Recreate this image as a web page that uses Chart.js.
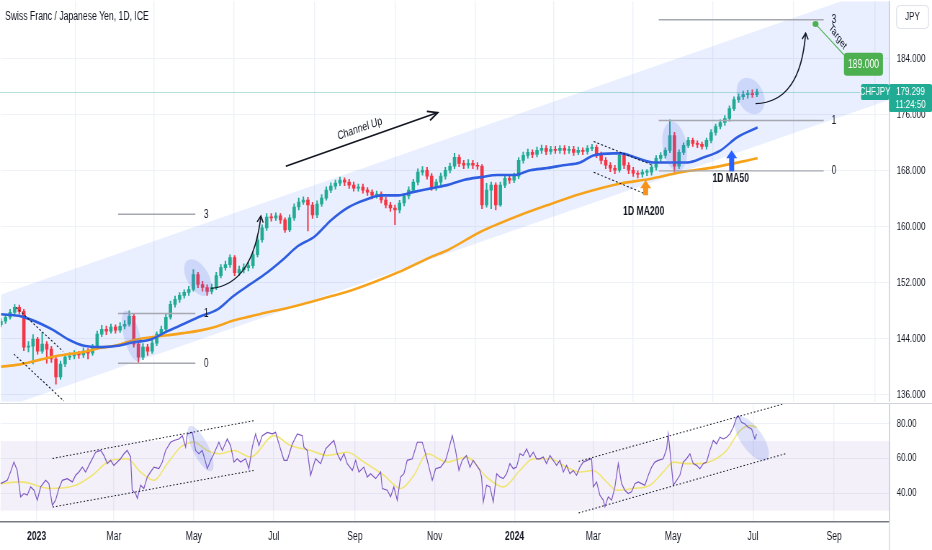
<!DOCTYPE html>
<html>
<head>
<meta charset="utf-8">
<script src="https://cdn.jsdelivr.net/npm/chart.js@4.4.1/dist/chart.umd.min.js"></script>
<style>
  html, body { margin: 0; padding: 0; background: #fff; }
  #wrap { position: relative; width: 932px; height: 550px; overflow: hidden; }
  /* the reference screenshot is horizontally compressed, so the panes are drawn wide and squeezed */
  .pane { position: absolute; left: 0; width: 1294px; transform: scaleX(0.72025); transform-origin: 0 0; }
  #pricePane { top: 0; height: 403px; }
  #rsiPane { top: 403px; height: 147px; }
</style>
</head>
<body>
<div id="wrap">
  <div id="pricePane" class="pane"><canvas id="priceChart"></canvas></div>
  <div id="rsiPane" class="pane"><canvas id="rsiChart"></canvas></div>
</div>
<script>
const FONT = '"Liberation Sans", Arial, sans-serif';
Chart.defaults.font.family = FONT;
Chart.defaults.color = "#131722";
const S = 932 / 1294;   // horizontal squeeze of the panes
const AXIS_W = 59;      // price axis width in canvas px

// x values are calendar days counted from 1 Jan 2023
const tickDays = [0, 59, 120, 181, 243, 304, 365, 425, 486, 547, 609];
const tickLabels = ["2023", "Mar", "May", "Jul", "Sep", "Nov", "2024", "Mar", "May", "Jul", "Sep"];
const priceTicks = [136, 144, 152, 160, 168, 176, 184];
const rsiTicks = [40, 60, 80];

// CHFJPY candles, one every ~2.5 sessions
const candleStartDay = -27.5;
const candleStepDays = 3.5;
const firstOpen = 146.0;
const closes = [
  146.50,147.07,147.78,148.49,147.92,142.81,142.95,143.94,142.24,143.23,
  142.52,141.10,138.54,140.39,141.38,141.53,141.81,141.67,142.24,141.95,
  142.81,144.65,145.36,145.08,145.65,145.22,145.79,146.07,147.21,143.23,
  141.38,142.81,142.24,143.37,144.65,145.36,147.07,148.91,149.62,150.19,
  150.62,151.04,153.18,151.75,151.33,150.76,151.33,153.03,154.17,154.60,
  155.59,153.46,153.89,154.17,154.45,156.02,158.15,159.85,161.41,161.27,
  161.56,160.99,159.57,161.27,162.83,163.54,163.83,163.12,161.70,163.26,
  164.11,165.25,165.82,166.24,166.67,166.39,165.96,165.53,165.68,165.25,
  164.97,164.54,164.68,163.83,163.12,162.69,162.41,163.40,164.40,165.25,
  166.39,167.81,168.09,167.24,165.68,166.39,167.24,168.09,168.66,169.94,
  169.08,168.80,169.08,168.80,168.66,163.12,165.25,165.96,163.12,165.96,
  166.95,166.67,167.24,169.51,170.22,170.65,170.36,170.93,171.22,170.79,
  171.07,170.93,171.22,170.93,171.07,170.65,170.93,170.79,171.22,171.36,
  170.36,169.51,168.80,168.37,168.09,170.22,168.80,168.09,167.66,167.52,
  167.81,167.81,168.52,169.79,170.22,170.93,173.06,168.66,170.65,171.64,
  172.35,171.93,171.78,171.50,172.35,173.49,174.34,174.91,175.48,176.90,
  178.18,178.60,178.89,179.03,178.89,179.299
];
const highs = [
  146.9,147.5,148.2,148.9,148.8,148.2,143.6,144.6,144.2,144.9,
  143.6,142.9,141.4,140.8,141.8,142.0,142.3,142.2,142.7,142.6,
  143.2,145.1,145.9,145.8,146.1,146.0,146.3,146.6,148.0,147.6,
  143.6,143.3,143.2,143.8,145.0,145.8,147.5,149.4,150.1,150.6,
  151.0,151.5,153.9,153.5,152.2,151.7,151.8,153.5,154.6,155.1,
  156.0,155.9,154.4,154.7,155.0,156.5,158.6,160.3,161.9,161.9,
  162.0,161.9,161.3,161.7,163.3,164.1,164.3,164.2,163.5,163.7,
  164.6,165.7,166.3,166.7,167.1,167.0,166.8,166.4,166.1,166.1,
  165.6,165.3,165.1,165.0,164.2,163.5,163.1,163.8,164.8,165.7,
  166.8,168.3,168.6,168.5,167.6,166.8,167.7,168.5,169.1,170.5,
  170.3,169.5,169.6,169.5,169.2,168.9,166.2,166.4,166.3,166.4,
  167.4,167.4,167.7,169.9,170.7,171.1,171.0,171.4,171.7,171.6,
  171.5,171.5,171.6,171.6,171.5,171.5,171.4,171.3,171.6,171.8,
  171.7,170.7,169.9,169.2,168.8,170.6,170.5,169.2,168.5,168.0,
  168.2,168.2,168.9,170.2,170.6,171.3,175.3,173.5,171.0,172.0,
  172.8,172.7,172.3,172.1,172.7,173.9,174.7,175.3,175.9,177.3,
  178.6,179.0,179.4,179.5,179.6,179.7
];
const lows = [
  145.7,146.2,146.8,147.4,147.5,142.3,142.1,140.4,141.8,141.9,
  140.5,140.6,137.5,138.2,140.0,141.0,141.1,141.2,141.3,141.1,
  141.6,142.5,144.3,144.6,144.8,144.8,144.9,145.4,145.8,142.8,
  140.6,141.0,141.6,141.9,143.0,144.3,145.0,146.8,148.5,149.2,
  149.8,150.2,150.8,151.3,150.8,150.2,150.4,151.0,152.7,153.8,
  154.2,153.0,153.0,153.4,153.7,154.1,155.7,157.8,159.5,160.8,
  160.9,160.5,159.2,159.3,160.9,162.4,163.2,159.4,161.2,161.3,
  162.9,163.8,164.9,165.4,165.9,165.9,165.5,165.1,165.1,164.8,
  164.5,164.0,164.1,163.4,162.7,162.2,160.3,162.0,163.0,164.0,
  164.9,166.0,167.4,166.8,165.2,165.2,166.0,166.8,167.7,168.3,
  168.6,168.3,168.4,168.3,168.2,162.6,162.8,162.6,162.4,162.9,
  165.6,166.2,166.3,166.9,169.1,169.8,169.9,170.0,170.5,170.3,
  170.4,170.5,170.5,170.4,170.5,170.2,170.3,170.3,170.4,170.9,
  169.9,169.0,168.3,167.9,167.6,167.8,168.3,167.6,167.2,167.0,
  167.1,167.3,167.4,168.1,169.4,169.8,170.6,167.8,168.3,170.3,
  171.3,171.5,171.3,171.1,171.1,172.0,173.1,174.0,174.5,175.1,
  176.6,177.8,178.2,178.4,178.5,178.6
];

// moving averages
const ma50Days = [-27.5,-12,11,24,36,49,62,74,87,100,112,125,138,150,163,176,189,199,212,225,238,250,263,276,288,301,314,326,339,352,364,377,390,402,415,425,441,446,459,471,484,497,509,522,535,550.5];
const ma50 = [147.5,147.2,145.4,143.9,143.0,142.8,143.0,143.5,143.9,145.1,146.1,147.2,148.2,150.1,151.8,153.5,155.5,157.2,158.6,161.0,162.8,163.8,164.5,164.5,165.0,165.5,166.0,166.7,167.1,167.4,167.4,168.1,168.4,168.8,169.2,170.2,170.5,170.5,169.8,169.2,169.2,169.2,169.9,170.9,172.8,174.2];
const ma200Days = [-27.5,-14,-2,11,24,36,49,62,74,87,100,112,125,138,150,163,176,189,202,225,240,276,301,314,339,364,390,415,446,467,492,517,550.5];
const ma200 = [140.0,140.3,140.8,141.4,141.8,142.1,142.7,143.1,143.8,144.2,144.5,144.8,145.2,145.8,146.6,147.2,147.8,148.3,148.9,150.1,150.9,153.5,155.7,156.7,159.3,161.3,163.1,164.7,166.2,166.8,167.8,168.5,169.8];

// RSI and its moving average
const rsiDays = [
  -27.5,-22.4,-19.9,-17.3,-14.8,-12.2,-9.7,-7.1,-4.6,-2.0,
  0.5,3.1,6.9,9.4,12.0,14.5,17.0,19.6,23.4,27.3,
  29.8,32.3,34.9,37.4,39.9,42.5,45.1,48.9,51.4,54.0,
  56.5,59.0,61.6,64.1,66.7,69.2,71.8,73.0,75.6,76.9,
  79.4,81.9,84.5,87.0,89.6,93.4,96.0,98.5,102.3,104.9,
  108.7,111.3,113.8,115.1,118.9,121.4,123.9,126.5,129.0,130.3,
  132.9,135.4,139.2,141.8,145.6,148.1,150.7,153.2,155.8,159.6,
  162.1,164.7,167.2,169.8,172.3,176.2,180.0,182.5,185.0,188.9,
  191.4,195.3,199.1,202.9,204.1,206.7,209.2,213.0,216.9,220.7,
  224.5,227.0,229.6,232.1,234.7,237.2,241.1,243.6,246.1,249.9,
  252.5,255.0,258.9,262.7,264.0,267.8,270.3,272.8,275.4,277.9,
  280.5,283.0,286.9,290.7,294.5,297.0,299.6,302.1,304.7,308.5,
  312.3,314.8,317.4,319.9,322.5,325.0,328.3,330.9,333.4,336.0,
  338.5,339.8,341.1,343.6,346.2,348.7,351.3,353.8,356.4,358.9,
  361.4,364.0,366.5,369.1,371.6,374.2,376.7,379.3,381.8,384.3,
  386.9,389.4,392.0,394.5,397.1,399.6,402.2,404.7,407.2,409.8,
  412.3,414.9,417.4,421.3,423.8,425.1,427.6,430.1,432.7,434.0,
  436.5,439.1,441.6,444.2,446.7,449.2,451.8,454.3,456.9,459.4,
  462.0,464.5,467.1,469.6,472.1,474.7,478.5,481.1,482.3,483.6,
  486.2,488.7,491.2,493.8,496.3,498.9,501.4,504.0,506.5,509.1,
  511.6,514.1,516.7,519.2,521.8,524.3,526.9,529.4,532.0,534.5,
  535.8,538.3,540.9,543.4,546.0,548.5,549.8
];
const rsiValues = [
  45.5,47.4,52.2,57.9,53.1,37.9,39.8,38.9,43.6,41.7,
  36.0,43.6,47.4,45.5,33.1,36.0,42.7,47.4,48.4,46.5,
  50.3,52.2,55.0,52.2,56.0,59.8,63.6,64.6,61.7,57.0,
  58.9,56.0,57.9,59.8,62.7,64.6,60.8,41.7,39.8,37.0,
  44.6,42.7,49.3,52.2,55.0,54.1,57.9,64.6,69.3,70.3,
  71.2,73.1,66.5,74.1,75.0,64.6,62.7,64.6,57.9,54.1,
  58.9,62.7,69.3,64.6,71.2,67.4,57.9,59.8,57.9,59.8,
  54.1,66.5,74.1,67.4,73.1,75.0,74.1,75.0,68.4,58.9,
  58.9,68.4,74.1,73.1,66.5,64.6,50.3,59.8,57.0,65.5,
  68.4,70.3,62.7,58.9,62.7,57.0,53.1,58.9,52.2,55.0,
  49.3,51.2,48.4,52.2,42.7,41.7,37.9,43.6,36.0,49.3,
  51.2,58.9,59.8,69.3,69.3,62.7,55.0,47.4,54.1,55.0,
  58.9,65.5,73.1,64.6,53.1,58.9,61.7,55.0,58.9,56.0,
  53.1,49.3,35.0,44.6,43.6,35.0,51.2,49.3,48.4,51.2,
  57.0,54.1,55.0,62.7,61.7,65.5,60.8,63.6,59.8,59.8,
  60.8,57.0,61.7,58.9,56.0,58.9,52.2,56.0,51.2,53.1,
  50.3,55.0,57.9,59.2,59.8,43.6,46.5,38.9,36.0,32.2,
  37.9,36.0,43.6,57.0,45.5,41.7,39.8,40.8,45.5,46.5,
  45.5,44.6,50.3,55.0,57.9,58.9,59.8,65.5,74.1,64.6,
  44.6,47.4,50.3,57.9,59.8,62.7,57.0,56.0,54.1,57.0,
  57.9,64.6,70.3,68.4,72.2,71.2,72.2,74.1,77.9,83.6,
  84.6,80.8,79.8,77.9,77.0,71.2,74.1
];
const rsiMaDays = [-27.5,-12.2,10.7,29.8,42.5,56.5,69.2,79.4,89.6,99.8,110.0,120.1,130.3,140.5,150.7,163.4,181.2,194.0,209.2,222.0,237.2,249.9,265.2,277.9,288.1,298.3,313.6,328.3,343.6,356.4,369.1,379.3,392.0,404.7,414.9,425.1,435.2,442.9,455.6,468.3,478.5,486.2,496.3,506.5,516.7,526.9,537.1,544.7,549.8];
const rsiMa = [45.5,46.5,42.7,44.6,50.3,58.9,59.8,52.2,47.4,57.0,66.5,69.3,64.6,62.7,64.6,60.8,73.1,67.4,64.6,61.7,63.6,57.9,50.3,42.7,50.3,62.7,57.9,60.8,49.3,43.6,53.1,59.8,59.8,55.0,52.2,53.1,46.5,41.7,42.7,44.6,52.2,57.9,57.0,57.0,58.9,64.6,76.0,78.9,77.9];

// drawings
const channelDays = [-27.5, 651.3];
const channelTop = [150.33, 194.65];
const channelBottom = [134.0, 178.18];
const targetPrice = 189.0;

const DAY_MIN = -27.5, DAY_MAX = 651.3;
const UP = "#22ab94", DOWN = "#f23645";

const candleDays = closes.map((c, i) => candleStartDay + i * candleStepDays);
const opens = closes.map((c, i) => (i === 0 ? firstOpen : closes[i - 1]));
const candleColors = closes.map((c, i) => (c >= opens[i] ? UP : DOWN));
const pts = (xs, ys) => xs.map((d, i) => ({ x: d, y: ys[i] }));

function setTicks(vals) { return s => { s.ticks = vals.map(v => ({ value: v })); }; }
function yFit(s) { s.width = AXIS_W; s.paddingTop = 0; s.paddingBottom = 0; }

function seg(ctx, x1, y1, x2, y2) { ctx.beginPath(); ctx.moveTo(x1, y1); ctx.lineTo(x2, y2); ctx.stroke(); }
function head(ctx, x, y, ang, len) {
  ctx.beginPath();
  ctx.moveTo(x - len * Math.cos(ang - 0.45), y - len * Math.sin(ang - 0.45));
  ctx.lineTo(x, y);
  ctx.lineTo(x - len * Math.cos(ang + 0.45), y - len * Math.sin(ang + 0.45));
  ctx.stroke();
}
function ellipse(ctx, x, y, rx, ry, rot) {
  ctx.fillStyle = "rgba(90,115,230,0.2)";
  ctx.beginPath(); ctx.ellipse(x, y, rx, ry, rot, 0, Math.PI * 2); ctx.fill();
}
function blockArrow(ctx, cx, tip, len, color) {
  ctx.fillStyle = color;
  ctx.beginPath();
  ctx.moveTo(cx, tip); ctx.lineTo(cx + 5.5, tip + 8); ctx.lineTo(cx + 2.5, tip + 8);
  ctx.lineTo(cx + 2.5, tip + len); ctx.lineTo(cx - 2.5, tip + len); ctx.lineTo(cx - 2.5, tip + 8);
  ctx.lineTo(cx - 5.5, tip + 8); ctx.closePath(); ctx.fill();
}
function roundBox(ctx, x, y, w, h, r, fill, stroke) {
  ctx.beginPath(); ctx.roundRect(x, y, w, h, r);
  if (fill) { ctx.fillStyle = fill; ctx.fill(); }
  if (stroke) { ctx.strokeStyle = stroke; ctx.lineWidth = 1; ctx.stroke(); }
}

const fibSets = [
  { from: 62, to: 121, zero: 140.5, one: 147.6, labelDay: 127.5 },
  { from: 475, to: 601, zero: 168.0, one: 175.2, labelDay: 607 }
];
const fibLevels = [0, 1, 3];

// geometry is drawn in screen (squeezed) pixels, text in canvas pixels so it comes out narrow
const priceNotes = {
  id: "priceNotes",
  afterDatasetsDraw(chart) {
    const { ctx, scales: { x, y } } = chart;
    const X = d => x.getPixelForValue(d) * S, Y = p => y.getPixelForValue(p);
    const lastY = Math.round(Y(closes[closes.length - 1])) + 0.5;

    ctx.save();
    ctx.scale(1 / S, 1);
    ctx.strokeStyle = "rgba(34,171,148,0.35)"; ctx.lineWidth = 1;
    seg(ctx, 0, lastY, 889, lastY);

    fibSets.forEach(f => {
      fibLevels.forEach(l => {
        const py = Y(f.zero + l * (f.one - f.zero));
        ctx.strokeStyle = "#a5a8b0"; ctx.lineWidth = 1.4;
        seg(ctx, X(f.from), py, X(f.to), py);
      });
    });

    ellipse(ctx, X(72.5), Y(144.4), 8, 26, -0.25);
    ellipse(ctx, X(122.9), Y(152.75), 11, 20, -0.5);
    ellipse(ctx, X(487.2), Y(171.5), 12, 25, -0.15);
    ellipse(ctx, X(545.2), Y(178.7), 13, 19, -0.4);

    ctx.strokeStyle = "#131722"; ctx.lineWidth = 1; ctx.setLineDash([2, 2]);
    seg(ctx, X(-16.0), Y(148.5), X(19.9), Y(142.2));
    seg(ctx, X(-17.6), Y(141.8), X(20.6), Y(135.1));
    seg(ctx, X(425.3), Y(172.2), X(470.4), Y(168.8));
    seg(ctx, X(425.3), Y(167.8), X(467.3), Y(164.5));
    ctx.setLineDash([]);

    // Channel Up arrow
    const ax1 = X(190.1), ay1 = Y(168.66), ax2 = X(306.2), ay2 = Y(176.33);
    ctx.strokeStyle = "#131722"; ctx.lineWidth = 1.6;
    seg(ctx, ax1, ay1, ax2, ay2);
    head(ctx, ax2, ay2, Math.atan2(ay2 - ay1, ax2 - ax1), 11);

    const curve = (d0, p0, dc, pc, d1, p1) => {
      const x0 = X(d0), y0 = Y(p0), xc = X(dc), yc = Y(pc), x1 = X(d1), y1 = Y(p1);
      ctx.strokeStyle = "#131722"; ctx.lineWidth = 1.2;
      ctx.beginPath(); ctx.moveTo(x0, y0); ctx.quadraticCurveTo(xc, yc, x1, y1); ctx.stroke();
      head(ctx, x1, y1, Math.atan2(y1 - yc, x1 - xc), 7);
    };
    curve(132.9, 151.2, 164.9, 151.75, 171.1, 161.55);
    curve(549, 177.6, 583.4, 177.8, 587.2, 187.7);

    // target
    const tx = X(594.8), ty = Y(targetPrice), bx = X(616.5), by = Y(183.3);
    ctx.strokeStyle = "#4caf50"; ctx.lineWidth = 1;
    seg(ctx, tx, ty, bx, by - 9);
    ctx.fillStyle = "#4caf50";
    ctx.beginPath(); ctx.arc(tx, ty, 3, 0, Math.PI * 2); ctx.fill();
    roundBox(ctx, bx, by - 11, 39, 23, 3, "#4caf50");

    blockArrow(ctx, X(465), Y(166.67), 15, "#f7931a");
    blockArrow(ctx, X(530.7), Y(170.93), 21, "#2962ff");
    ctx.restore();

    // text
    ctx.save();
    ctx.fillStyle = "#131722"; ctx.textBaseline = "middle";
    ctx.font = "12px " + FONT; ctx.textAlign = "left";
    fibSets.forEach(f => fibLevels.forEach(l =>
      ctx.fillText(String(l), X(f.labelDay) / S, Y(f.zero + l * (f.one - f.zero)))));

    const ang = Math.atan2(ay2 - ay1, (ax2 - ax1) / S);
    ctx.save();
    ctx.translate((ax1 + ax2) / 2 / S, (ay1 + ay2) / 2);
    ctx.rotate(ang);
    ctx.textAlign = "center"; ctx.textBaseline = "bottom";
    ctx.fillText("Channel Up", 0, -5);
    ctx.restore();

    ctx.save();
    ctx.translate(((tx + bx) / 2 + 8) / S, (ty + by) / 2 - 7);
    ctx.rotate(Math.atan2(by - ty, (bx - tx) / S));
    ctx.font = "11px " + FONT; ctx.textAlign = "center";
    ctx.fillText("Target", 0, 0);
    ctx.restore();

    ctx.fillStyle = "#fff"; ctx.font = "12px " + FONT; ctx.textAlign = "center";
    ctx.fillText(targetPrice.toFixed(3), (bx + 19.5) / S, by + 0.5);

    ctx.fillStyle = "#131722"; ctx.font = "bold 12px " + FONT;
    ctx.fillText("1D MA200", X(463.5) / S, Y(162.1));
    ctx.fillText("1D MA50", X(530) / S, Y(166.95));
    ctx.restore();
  },
  afterDraw(chart) {
    const { ctx, scales: { y } } = chart;
    const ly = Math.round(y.getPixelForValue(closes[closes.length - 1]));
    ctx.save();
    ctx.scale(1 / S, 1);
    roundBox(ctx, 896.5, 5.5, 32, 23, 4, "#fff", "#e0e3eb");
    roundBox(ctx, 861, ly - 8, 28, 16, 2, UP);
    roundBox(ctx, 889, ly - 8, 43, 28, 2, UP);
    ctx.restore();

    ctx.save();
    ctx.textBaseline = "middle";
    ctx.font = "12px " + FONT; ctx.fillStyle = "#131722"; ctx.textAlign = "left";
    ctx.fillText("Swiss Franc / Japanese Yen, 1D, ICE", 5 / S, 17);
    ctx.font = "11px " + FONT; ctx.textAlign = "center";
    ctx.fillText("JPY", 912.5 / S, 17);
    ctx.fillStyle = "#fff";
    ctx.fillText("CHFJPY", 875 / S, ly);
    ctx.fillText(closes[closes.length - 1].toFixed(3), 910.5 / S, ly);
    ctx.fillText("11:24:50", 910.5 / S, ly + 13);
    ctx.restore();
  }
};

new Chart(document.getElementById("priceChart"), {
  type: "bar",
  data: {
    datasets: [
      {
        type: "line", data: pts(channelDays, channelTop), borderWidth: 0, pointRadius: 0,
        fill: "+1", backgroundColor: "rgba(41,98,255,0.1)", order: 10
      },
      {
        type: "line", data: pts(channelDays, channelBottom), borderWidth: 0, pointRadius: 0,
        fill: false, order: 10
      },
      {
        data: candleDays.map((d, i) => ({ x: d, y: [lows[i], highs[i]] })),
        backgroundColor: candleColors, barThickness: 1.4, grouped: false, order: 5
      },
      {
        data: candleDays.map((d, i) => ({ x: d, y: [opens[i], closes[i]] })),
        backgroundColor: candleColors, barThickness: 4, minBarLength: 1, grouped: false, order: 4
      },
      {
        type: "line", data: pts(ma200Days, ma200), borderColor: "#f7a21b", borderWidth: 2.6,
        pointRadius: 0, cubicInterpolationMode: "monotone", order: 2
      },
      {
        type: "line", data: pts(ma50Days, ma50), borderColor: "#2f5ee0", borderWidth: 2.6,
        pointRadius: 0, cubicInterpolationMode: "monotone", order: 1
      }
    ]
  },
  options: {
    responsive: true,
    maintainAspectRatio: false,
    animation: false,
    events: [],
    layout: { padding: 0 },
    plugins: { legend: { display: false }, tooltip: { enabled: false } },
    scales: {
      x: {
        type: "linear", min: DAY_MIN, max: DAY_MAX, offset: false,
        afterBuildTicks: setTicks(tickDays),
        afterFit: s => { s.height = 0; s.paddingLeft = 0; s.paddingRight = 0; },
        grid: { color: "#eef1f8", lineWidth: 1.4, drawTicks: false },
        border: { display: false },
        ticks: { display: false }
      },
      y: {
        position: "right", min: 135.0, max: 192.24,
        afterBuildTicks: setTicks(priceTicks),
        afterFit: yFit,
        grid: { color: "#eef1f8", drawTicks: false },
        border: { color: "#c9ccd3", width: 1.4 },
        ticks: { padding: 10, font: { size: 11 }, color: "#131722", callback: v => v.toFixed(3) }
      }
    }
  },
  plugins: [priceNotes]
});

const rsiNotes = {
  id: "rsiNotes",
  beforeDatasetsDraw(chart) {
    const { ctx, chartArea: a, scales: { y } } = chart;
    ctx.save();
    ctx.fillStyle = "rgba(126,87,194,0.09)";
    ctx.fillRect(a.left, y.getPixelForValue(70), a.right - a.left, y.getPixelForValue(30) - y.getPixelForValue(70));
    ctx.restore();
  },
  afterDatasetsDraw(chart) {
    const { ctx, scales: { x, y } } = chart;
    const X = d => x.getPixelForValue(d) * S, Y = v => y.getPixelForValue(v);
    ctx.save();
    ctx.scale(1 / S, 1);
    ellipse(ctx, X(125.2), Y(65.7), 8, 25, -0.45);
    ellipse(ctx, X(546), Y(71.4), 11, 26, -0.6);
    ctx.strokeStyle = "#131722"; ctx.lineWidth = 1; ctx.setLineDash([1.5, 2]);
    seg(ctx, X(12.2), Y(60.0), X(165.7), Y(81.7));
    seg(ctx, X(12.2), Y(32.0), X(165.7), Y(53.1));
    seg(ctx, X(413.9), Y(58.3), X(570.4), Y(91.4));
    seg(ctx, X(413.9), Y(28.6), X(572.7), Y(62.9));
    ctx.restore();
  },
  afterDraw(chart) {
    const { ctx } = chart;
    ctx.save();
    ctx.scale(1 / S, 1);
    ctx.strokeStyle = "#d1d4dc"; ctx.lineWidth = 1;
    seg(ctx, 0, 0.5, 932, 0.5);
    seg(ctx, 889.5, 0, 889.5, 147);
    ctx.restore();
  }
};

new Chart(document.getElementById("rsiChart"), {
  type: "line",
  data: {
    datasets: [
      {
        data: pts(rsiMaDays, rsiMa), borderColor: "rgba(240,226,90,0.85)", borderWidth: 1.6,
        pointRadius: 0, cubicInterpolationMode: "monotone", order: 2
      },
      {
        data: pts(rsiDays, rsiValues), borderColor: "#7e57c2", borderWidth: 1.2,
        pointRadius: 0, tension: 0, order: 1
      }
    ]
  },
  options: {
    responsive: true,
    maintainAspectRatio: false,
    animation: false,
    events: [],
    layout: { padding: 0 },
    plugins: { legend: { display: false }, tooltip: { enabled: false } },
    scales: {
      x: {
        type: "linear", min: DAY_MIN, max: DAY_MAX, offset: false,
        afterBuildTicks: setTicks(tickDays),
        afterFit: s => { s.height = 28; s.paddingLeft = 0; s.paddingRight = 0; },
        grid: { color: "#eef1f8", lineWidth: 1.4, drawTicks: false },
        border: { color: "#787b86", width: 1.5 },
        ticks: {
          padding: 7, color: "#131722", maxRotation: 0, autoSkip: false,
          font: c => ({ size: 12, weight: /^\d{4}$/.test(tickLabels[c.index] || "") ? "bold" : "normal" }),
          callback: (v, i) => tickLabels[i]
        }
      },
      y: {
        position: "right", min: 23.43, max: 91.43,
        afterBuildTicks: setTicks(rsiTicks),
        afterFit: yFit,
        grid: { color: "#eef1f8", drawTicks: false },
        border: { color: "#c9ccd3", width: 1.4 },
        ticks: { padding: 10, font: { size: 11 }, color: "#131722", callback: v => v.toFixed(2) }
      }
    }
  },
  plugins: [rsiNotes]
});
</script>
</body>
</html>
